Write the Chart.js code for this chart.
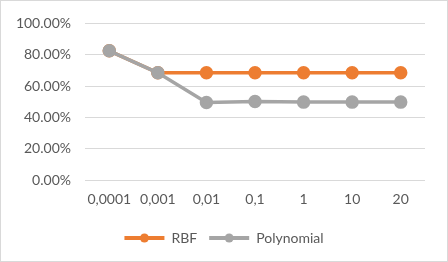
<!DOCTYPE html>
<html>
<head>
<meta charset="utf-8">
<script src="https://cdn.jsdelivr.net/npm/chart.js@4"></script>
<style>
  html, body { margin: 0; padding: 0; background: #fff; }
  #wrap { position: relative; width: 446px; height: 260px; border: 1px solid #d9d9d9; }
</style>
</head>
<body>
<div id="wrap"><canvas id="myChart"></canvas></div>
<script>
const categories = ["0,0001", "0,001", "0,01", "0,1", "1", "10", "20"];
const rbfValues = [82.5, 68.5, 68.5, 68.5, 68.5, 68.5, 68.5];
const polyValues = [82.5, 68.5, 49.6, 50.2, 49.8, 49.8, 49.8];
const yTicks = [0, 20, 40, 60, 80, 100];

const orange = "#ed7d31";
const grey = "#a5a5a5";
const textColor = "#595959";
const fontFam = "Lato, 'Open Sans', sans-serif";

// legend items: line with a dot in the middle
const legendDots = {
  id: "legendDots",
  afterDraw(chart) {
    const ctx = chart.ctx;
    const boxes = chart.legend.legendHitBoxes;
    chart.legend.legendItems.forEach((item, i) => {
      const b = boxes[i];
      const cx = b.left + 20;
      const cy = b.top + b.height / 2;
      ctx.save();
      ctx.fillStyle = item.fillStyle;
      ctx.beginPath();
      ctx.arc(cx, cy, 4.5, 0, Math.PI * 2);
      ctx.fill();
      ctx.restore();
    });
  }
};

let ctx = document.getElementById('myChart').getContext('2d');

let myChart = new Chart(ctx, {
  type: 'line',
  data: {
    labels: categories,
    datasets: [
      {
        label: "RBF",
        data: rbfValues,
        order: 1,
        borderColor: orange,
        backgroundColor: orange,
        borderWidth: 3.5,
        pointRadius: 5,
        pointBackgroundColor: orange,
        pointBorderColor: orange
      },
      {
        label: "Polynomial",
        data: polyValues,
        order: 0,
        borderColor: grey,
        backgroundColor: grey,
        borderWidth: 3.5,
        pointRadius: 5,
        pointBackgroundColor: grey,
        pointBorderColor: grey
      }
    ]
  },
  plugins: [legendDots],
  options: {
    responsive: true,
    maintainAspectRatio: false,
    animation: false,
    layout: { padding: { left: 0, right: 0, top: 22, bottom: 6 } },
    plugins: {
      legend: {
        display: true,
        position: 'bottom',
        labels: {
          color: textColor,
          boxWidth: 40,
          boxHeight: 4,
          padding: 12,
          font: { size: 14, family: fontFam },
          generateLabels(chart) {
            return chart.data.datasets.map((ds, i) => ({
              text: ds.label,
              fillStyle: ds.borderColor,
              strokeStyle: ds.borderColor,
              lineWidth: 0,
              fontColor: textColor,
              datasetIndex: i
            }));
          }
        }
      },
      tooltip: { enabled: false }
    },
    scales: {
      x: {
        offset: true,
        grid: { display: false, drawTicks: false },
        border: { display: false },
        ticks: {
          color: textColor,
          padding: 11,
          maxRotation: 0,
          autoSkip: false,
          font: { size: 14, family: fontFam }
        }
      },
      y: {
        min: 0,
        max: 100,
        afterFit(scale) { scale.width = 84; },
        afterBuildTicks(scale) { scale.ticks = yTicks.map(v => ({ value: v })); },
        grid: { color: "#d9d9d9", drawTicks: false },
        border: { display: false },
        ticks: {
          color: textColor,
          padding: 14,
          font: { size: 14, family: fontFam },
          callback: v => v.toFixed(2) + "%"
        }
      },
      // empty right-hand spacer so the legend stays centred on the whole box
      yRight: {
        position: 'right',
        display: true,
        min: 0,
        max: 100,
        afterFit(scale) { scale.width = 22; },
        grid: { display: false, drawTicks: false },
        border: { display: false },
        ticks: { display: false }
      }
    }
  }
});
</script>
</body>
</html>
